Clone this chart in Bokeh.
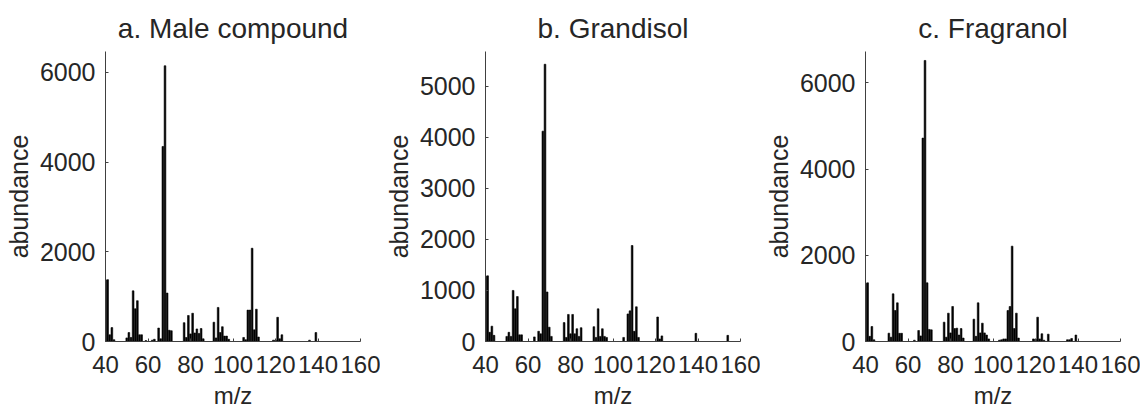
from bokeh.plotting import figure
from bokeh.layouts import row
from bokeh.models import ColumnDataSource, Range1d, FixedTicker, Title
from bokeh.embed import file_html
from bokeh.resources import INLINE

# ---- data ----
titles = ["a. Male compound", "b. Grandisol", "c. Fragranol"]
x_ticks = [40, 60, 80, 100, 120, 140, 160]

male_mz = [40, 41, 42, 43, 44, 50, 51, 52, 53, 54, 55, 56, 57, 59, 62, 63, 65, 66,
           67, 68, 69, 70, 71, 77, 78, 79, 80, 81, 82, 83, 84, 85, 86,
           91, 92, 93, 94, 95, 96, 97, 98, 105, 106, 107, 108, 109, 110, 111, 112,
           119, 120, 121, 122, 123, 136, 139]
male_ab = [1370, 1380, 150, 310, 40, 80, 200, 90, 1130, 730, 910, 150, 150, 20, 30, 50, 300, 60,
           4350, 6150, 1080, 250, 240, 420, 90, 580, 170, 630, 190, 280, 180, 290, 60,
           430, 80, 760, 200, 330, 120, 120, 50, 90, 40, 700, 700, 2080, 260, 720, 100,
           30, 30, 540, 60, 150, 30, 200]

gran_mz = [40, 41, 42, 43, 44, 50, 51, 52, 53, 54, 55, 56, 57, 63, 65, 66,
           67, 68, 69, 70, 71, 77, 78, 79, 80, 81, 82, 83, 84, 85,
           91, 92, 93, 94, 95, 96, 97, 105, 107, 108, 109, 110, 111, 112,
           121, 122, 123, 139, 154]
gran_ab = [1280, 1286, 180, 300, 120, 100, 180, 100, 1000, 640, 880, 130, 130, 90, 200, 150,
           4120, 5430, 970, 280, 100, 370, 80, 530, 150, 530, 150, 250, 100, 270,
           290, 80, 640, 100, 250, 100, 80, 80, 540, 600, 1880, 200, 680, 80,
           480, 50, 110, 160, 120]

frag_mz = [40, 41, 42, 43, 44, 51, 52, 53, 54, 55, 56, 57, 63, 65, 66,
           67, 68, 69, 70, 71, 77, 78, 79, 80, 81, 82, 83, 84, 85, 86,
           91, 92, 93, 94, 95, 96, 97, 98, 103, 104, 105, 106, 107, 108, 109, 110, 111, 112,
           119, 120, 121, 122, 123, 124, 126, 135, 136, 137, 139]
frag_ab = [1350, 1361, 120, 348, 40, 193, 100, 1106, 719, 897, 190, 190, 30, 255, 130,
           4717, 6518, 1361, 280, 270, 448, 100, 657, 200, 812, 300, 309, 150, 300, 80,
           518, 120, 897, 200, 425, 200, 150, 60, 30, 40, 60, 60, 719, 812, 2211, 300, 657, 80,
           60, 50, 564, 60, 180, 30, 170, 40, 40, 70, 150]

y_max = [6468, 5680, 6726]
y_ticks = [[0, 2000, 4000, 6000], [0, 1000, 2000, 3000, 4000, 5000], [0, 2000, 4000, 6000]]

series = [(male_mz, male_ab), (gran_mz, gran_ab), (frag_mz, frag_ab)]

FONT = "Liberation Sans"
TXT = "#262626"

figs = []
for i, (mz, ab) in enumerate(series):
    p = figure(output_backend="svg", toolbar_location=None,
               frame_width=255, frame_height=290,
               min_border_left=105, min_border_right=20, min_border_top=51, min_border_bottom=66,
               x_range=Range1d(40, 160), y_range=Range1d(0, y_max[i]))
    t = Title(text=titles[i], align="center", text_font=FONT, text_font_size="28px",
              text_font_style="normal", text_color=TXT, standoff=15)
    p.add_layout(t, "above")
    src = ColumnDataSource(dict(x=mz, top=ab))
    p.vbar(x="x", top="top", bottom=0, width=0.8, source=src,
           fill_color="black", line_color="black", line_width=0.6)
    p.outline_line_color = None
    p.grid.grid_line_color = None
    p.background_fill_color = "white"
    p.border_fill_color = "white"

    p.xaxis.ticker = FixedTicker(ticks=x_ticks)
    p.yaxis.ticker = FixedTicker(ticks=y_ticks[i])
    p.xaxis.axis_label = "m/z"
    p.yaxis.axis_label = "abundance"
    for ax in (p.xaxis, p.yaxis):
        ax.axis_line_color = "#404040"
        ax.axis_line_width = 1
        ax.major_tick_line_color = "#404040"
        ax.major_tick_in = 3
        ax.major_tick_out = 0
        ax.minor_tick_line_color = None
        ax.major_label_text_font = FONT
        ax.major_label_text_color = TXT
        ax.axis_label_text_font = FONT
        ax.axis_label_text_font_style = "normal"
        ax.axis_label_text_color = TXT
    p.yaxis.major_label_text_font_size = "25px"
    p.yaxis.axis_label_text_font_size = "25px"
    p.xaxis.major_label_text_font_size = "24px"
    p.xaxis.axis_label_text_font_size = "24px"
    p.xaxis.major_label_standoff = 14
    p.xaxis.axis_label_standoff = 6
    p.yaxis.major_label_standoff = 10
    p.yaxis.axis_label_standoff = 4
    figs.append(p)

layout = row(*figs, spacing=0)
open("out.html", "w").write(file_html(layout, INLINE))
